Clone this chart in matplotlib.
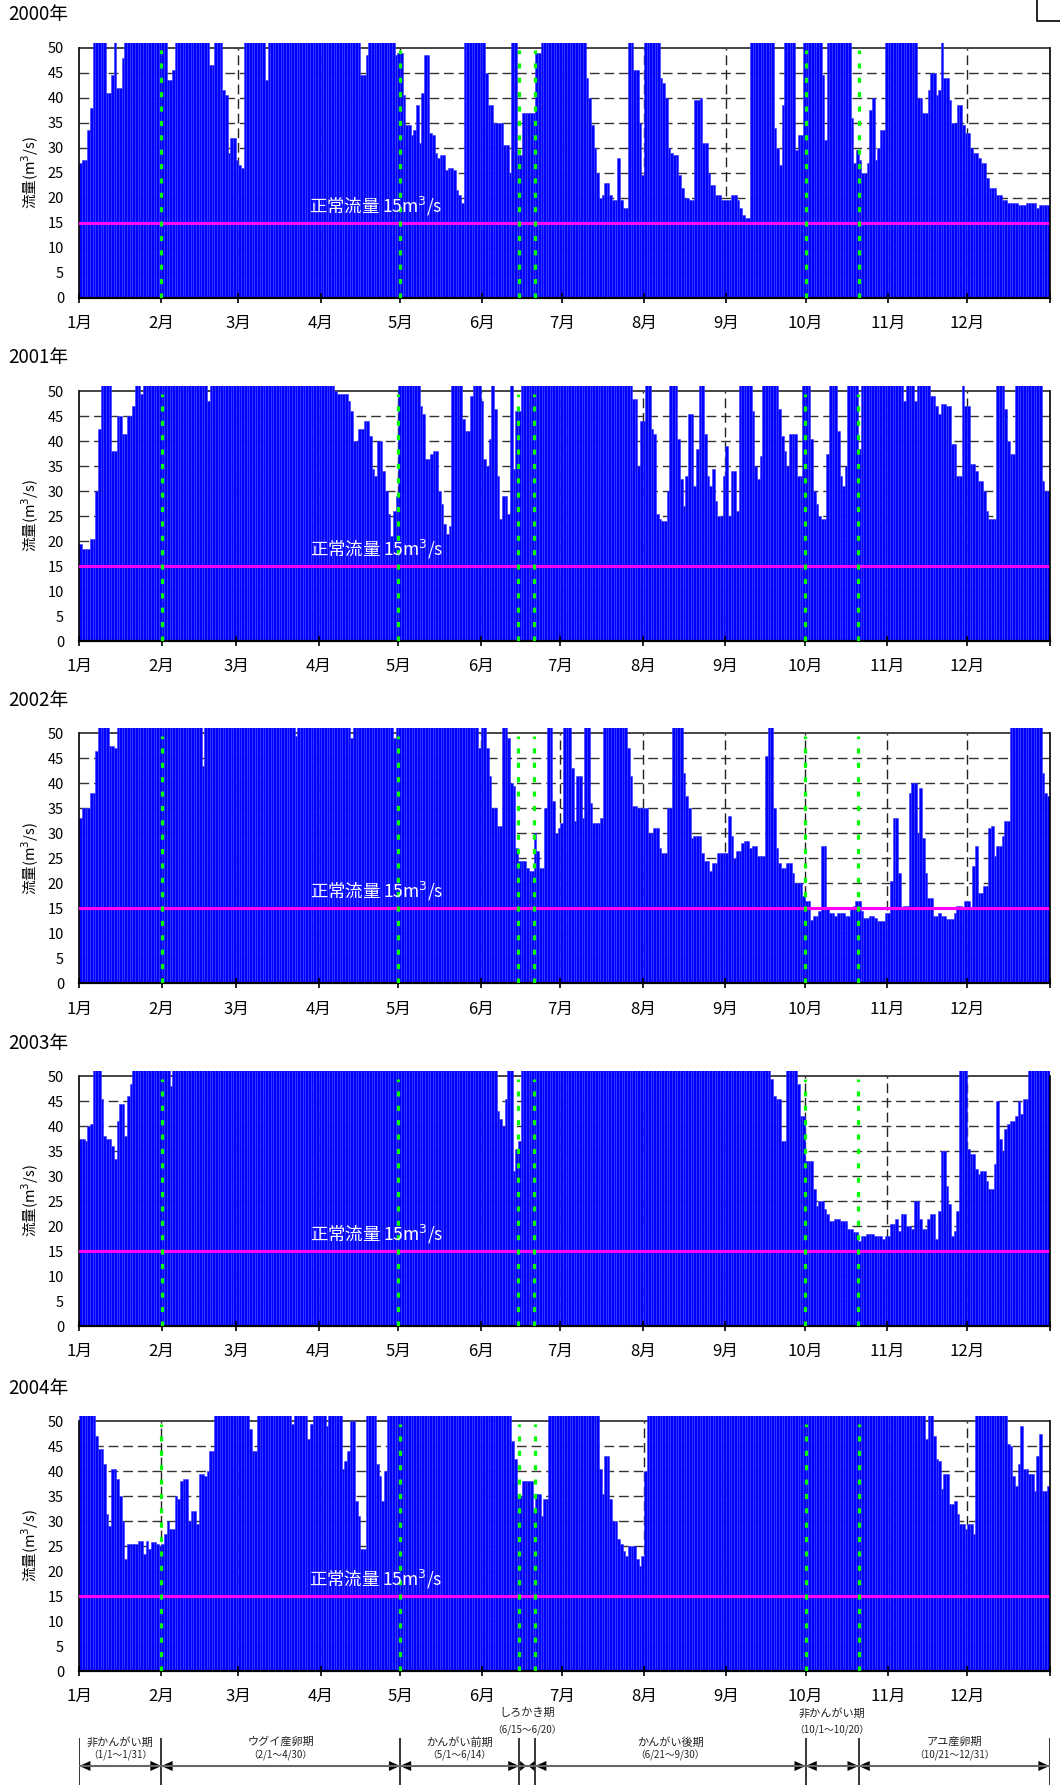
import numpy as np
import matplotlib.pyplot as plt
from matplotlib.lines import Line2D

plt.rcParams['font.family'] = ['Noto Sans CJK JP', 'DejaVu Sans']

# daily flow (m3/s), one list per month; H = off the scale (>50), clipped at the top
H = 60

flow_2000 = [
    [27, 27.5, 27.5, 33.5, 38, H, H, H, H, H, 41, 41, 44.5, H, 42, 42, 48, H, H, H, H, H, H, H, H, H, H, H, H, H, H],
    [H, H, 43.5, 43.5, 45.5, H, H, H, H, H, H, H, H, H, H, H, H, H, 46.5, 46.5, H, H, H, 41.5, 40.5, 29, 32, 32, 27.5],
    [26.5, 26, H, H, H, H, H, H, H, H, 43.5, H, H, H, H, H, H, H, H, H, H, H, H, H, H, H, H, H, H, H, H],
    [H, H, H, H, H, H, H, H, H, H, H, H, H, H, H, 44.5, 44.5, 48.5, H, H, H, H, H, H, H, H, H, H, 48.5, 49],
    [49, 40.5, 34.5, 34.5, 32.5, 33.5, 38.5, 31, 41, 48.5, 48.5, 33, 32.5, 29, 28, 28.5, 28.5, 25.5, 26, 26, 25.5, 21.5, 20.5, 19, H, H, H, H, H, H, H],
    [H, 45, 38.5, 38.5, 35, 35, 35, 35, 30.5, 30.5, 25, H, H, 28.5, 28.5, 37, 37, 37, 37, 37, 49, 49, H, H, H, H, H, H, H, H],
    [H, H, H, H, H, H, H, H, H, 44, 40, 34.5, 30, 25, 20, 20.5, 23, 23, 20.5, 19.5, 19.5, 28, 19.5, 18, 18, H, H, 45.5, 45.5, 35, 24.5],
    [H, H, H, H, H, H, 44, 43, 40, 30, 29, 28.5, 28.5, 24.5, 22, 20, 20, 19.5, 19.5, 39.5, 39.5, 40, 31, 31, 25, 22.5, 22.5, 20.5, 20.5, 19.5, 19.5],
    [19.5, 19.5, 20.5, 20.5, 19.5, 18, 16.5, 16, 16, H, H, H, H, H, H, H, H, H, 34, 30, 26.5, 38.5, H, H, H, H, 29.5, 32.5, 32.5, H],
    [H, H, H, H, H, H, 44.5, 31.5, H, H, H, H, H, H, H, H, H, 36, 27, 29.5, 27.5, 25, 25, 27, 37.5, 40, 27.5, 30, 33.5, 33.5, H],
    [H, H, H, H, H, H, H, H, H, H, H, 40, 40, 37, 37, 41.5, 45, 45, 40.5, 41.5, H, 44, 44, 39.5, 35, 35, 38.5, 38.5, 34.5, 33],
    [33, 30, 29, 29, 28, 27, 27, 24, 22, 22, 22, 20.5, 20.5, 19.5, 19.5, 19, 19, 19, 19, 18.5, 18.5, 18.5, 19, 19, 19, 19, 18, 18.5, 18.5, 18.5, 18.5],
]

flow_2001 = [
    [19.5, 18.5, 18.5, 18.5, 20.5, 20.5, 30, 42.5, H, H, H, H, 38, 38, 45, 45, 41.5, 41.5, 45, 45, 47, H, H, 49.5, H, H, H, H, H, H, H],
    [H, H, H, H, H, H, H, H, H, H, H, H, H, H, H, H, H, 48, H, H, H, H, H, H, H, H, H, H],
    [H, H, H, H, H, H, H, H, H, H, H, H, H, H, H, H, H, H, H, H, H, H, H, H, H, H, H, H, H, H, H],
    [H, H, H, H, H, H, 50, 49.5, 49.5, 49.5, 49.5, 48, 46, 40, 40, 42.5, 42.5, 44, 44, 41, 34.5, 33, 40, 40, 34, 30, 25.5, 21, 26, 29],
    [H, H, H, H, H, H, H, H, 47, 45.5, 36.5, 36.5, 37.5, 38, 38, 30, 27.5, 23.5, 21.5, 23, H, H, H, H, 44.5, 42, 42, 49, H, H, H],
    [48, 36.5, 35, 40.5, H, 46.5, 33, 24.5, 29, 29, 25.5, H, 34.5, 46, 46, H, H, H, H, H, H, H, H, H, H, H, H, H, H, H],
    [H, H, H, H, H, H, H, H, H, H, H, H, H, H, H, H, H, H, H, H, H, H, H, H, H, H, H, 48.5, 48.5, 35, 44],
    [44, H, H, 42.5, 41.5, 25.5, 24.5, 24, 24, 30, H, H, H, 40.5, 32.5, 27, 33, 45.5, 45.5, 31, 38.5, H, H, 41.5, 33, 31, 34.5, 28, 25, 25, 33],
    [39, 25, 34, 34, 26, H, H, H, H, H, 46, 35, 32.5, 37, H, H, H, H, H, H, 46.5, 41, 38, 35, 41.5, 41.5, 41.5, 33, 33, H],
    [H, H, 40.5, 30, 27.5, 25, 24.5, 24.5, 37.5, H, H, H, 42, 33, 31, 35, H, H, H, H, 38.5, H, H, H, H, H, H, H, H, H, H],
    [H, H, H, H, H, H, 48, H, H, H, 48, H, H, H, H, H, 49, 49, 47, 45.5, 47.5, 47.5, 47, 47, 39.5, 39.5, 33, 33, H, 47],
    [47, 35.5, 35.5, 34, 32, 32, 30, 26, 24.5, 24.5, 24.5, H, H, H, 46.5, 40, 37.5, 37.5, H, H, H, H, H, H, H, H, H, H, 32, 30, 30],
]

flow_2002 = [
    [33, 35, 35, 35, 38, 38, 46.5, H, H, H, H, 47.5, 47.5, 47, H, H, H, H, H, H, H, H, H, H, H, H, H, H, H, H, H],
    [H, H, H, H, H, H, H, H, H, H, H, H, H, H, H, 43.5, H, H, H, H, H, H, H, H, H, H, H, H],
    [H, H, H, H, H, H, H, H, H, H, H, H, H, H, H, H, H, H, H, H, H, H, 49.5, H, H, H, H, H, H, H, H],
    [H, H, H, H, H, H, H, H, H, H, H, H, 49, H, H, H, H, H, H, H, H, H, H, H, H, H, H, H, 49, H],
    [H, H, H, H, H, H, H, H, H, H, H, H, H, H, H, H, H, H, H, H, H, H, H, H, H, H, H, H, H, H, 47],
    [H, H, 47, 41.5, 35, 35, 31.5, 31.5, H, H, 49, 40, 39.5, 27, 24.5, 24.5, 24.5, 23, 22.5, 22.5, 30, 26.5, 23, 23, 35, H, H, 36.5, 30, 31],
    [32, H, H, H, 43, 32.5, 41.5, 41.5, 33, H, H, 36, 32, 32, 32, 33, H, H, H, H, H, H, H, H, H, 47, 41.5, 35.5, 35.5, 35, 35],
    [35, 35, 30, 30, 31, 31, 27, 26, 26, 35, 35, H, H, H, H, 42, 37.5, 35, 29, 29.5, 29.5, 29.5, 26, 24.5, 24.5, 22.5, 24, 24, 26, 26, 26],
    [26, 33.5, 29.5, 25, 26.5, 26.5, 28, 28.5, 28.5, 27, 27.5, 27.5, 25.5, 25.5, 25.5, 45.5, H, H, 35, 27, 24, 23, 23, 24, 24, 22, 20, 20, 20, 17.5],
    [16.5, 16.5, 12.7, 13.5, 13.5, 14.5, 27.5, 27.5, 15, 14, 14, 13.5, 14, 14, 14, 13.5, 13.5, 15, 15.5, 16.5, 16.5, 14.5, 13, 13, 13.5, 13.5, 13, 12.5, 12.5, 12.5, 14],
    [14, 20.5, 33, 33, 22, 15, 15.5, 15.5, 38, 40, 40, 30, 39, 29, 22, 17, 17, 13.5, 13.5, 14, 13.5, 13.5, 12.8, 12.8, 12.8, 14, 15.5, 15.5, 15, 16.5],
    [16.5, 15, 23.5, 27.5, 18, 18, 19.5, 19.5, 31, 31.5, 25.5, 27.5, 27.5, 29.5, 32.5, 32.5, H, H, H, H, H, H, H, H, H, H, H, H, 42, 38, 37.5],
]

flow_2003 = [
    [37.5, 37.5, 37, 40, 40.5, H, H, H, 45.5, 38, 37.5, 37.5, 36, 33.5, 41, 44.5, 44.5, 38, 46, 48.5, H, H, H, H, H, H, H, H, H, H, H],
    [H, H, H, 48, H, H, H, H, H, H, H, H, H, H, H, H, H, H, H, H, H, H, H, H, H, H, H, H],
    [H, H, H, H, H, H, H, H, H, H, H, H, H, H, H, H, H, H, H, H, H, H, H, H, H, H, H, H, H, H, H],
    [H, H, H, H, H, H, H, H, H, H, H, H, H, H, H, H, H, H, H, H, H, H, H, H, H, H, H, H, H, H],
    [H, H, H, H, H, H, H, H, H, H, H, H, H, H, H, H, H, H, H, H, H, H, H, H, H, H, H, H, H, H, H],
    [H, H, H, H, H, H, 43, 41.5, 40, 45.5, H, H, 31, 35.5, 37, H, H, H, H, H, H, H, H, H, H, H, H, H, H, H],
    [H, H, H, H, H, H, H, H, H, H, H, H, H, H, H, H, H, H, H, H, H, H, H, H, H, H, H, H, H, H, H],
    [H, H, H, H, H, H, H, H, H, H, H, H, H, H, H, H, H, H, H, H, H, H, H, H, H, H, H, H, H, H, H],
    [H, H, H, H, H, H, H, H, H, H, H, H, H, H, H, H, H, 49.5, 46, 45.5, 45.5, 37, 37, H, H, H, H, 48.5, 42, 42],
    [33, 33, 33, 27.5, 24, 25, 25, 23.5, 22.5, 21, 21, 21.5, 21.5, 21, 21, 21, 19.5, 19.5, 18.8, 18.8, 17, 18, 18, 18.5, 18.5, 18.5, 18, 18, 18, 17.5, 18],
    [18, 20.5, 20.5, 21.5, 19, 22.5, 22.5, 20, 20, 19.5, 25, 25, 21.5, 19.5, 19.5, 21.5, 22.5, 22.5, 17.5, 23, 35, 35, 28, 24.5, 18, 19, 23, H, H, H],
    [35.5, 34.5, 34.5, 31.5, 30.5, 31, 31, 29, 27.5, 27.5, 32.5, 45, 37.5, 35, 39.5, 40.5, 41, 41, 42, 45, 42.5, 45.5, 45.5, H, H, H, H, H, H, H, H],
]

flow_2004 = [
    [H, H, H, H, H, H, 47, 44.5, 44.5, 41.5, 31.5, 29, 40.5, 40.5, 38.5, 35, 30, 22.5, 25.5, 25.5, 25.5, 25.5, 26, 26, 23.5, 26, 24.5, 25.8, 25.8, 25.5, 25],
    [25.5, 27.5, 30, 28.5, 28.5, 35, 34.5, 38, 38.5, 38.5, 30, 32, 32, 29.5, 39.5, 39.5, 39, 40, 44, 44, H, H, H, H, H, H, H, H, H],
    [H, H, H, H, 48.5, 44, 44, H, H, H, H, H, H, H, H, H, H, H, H, H, 49.5, H, H, H, H, H, 46.5, 49.5, H, H, H],
    [H, H, 49, H, H, H, H, H, 40.5, 42, 44, 50, 50, 34, 31, 24.5, 24.5, H, H, H, H, 41.5, 39, 34, 40, H, H, H, H, H],
    [H, H, H, H, H, H, H, H, H, H, H, H, H, H, H, H, H, H, H, H, H, H, H, H, H, H, H, H, H, H, H],
    [H, H, H, H, H, H, H, H, H, H, H, 46, 42.5, 35, 35, 38, 38, 38, 38, 32, 35.5, 35.5, 31, 34.5, 34.5, H, H, H, H, H],
    [H, H, H, H, H, H, H, H, H, H, H, H, H, H, 40.5, 35.5, 43, 43, 34.5, 30, 30, 26.5, 25.5, 24, 23, 25, 25, 25, 22.5, 21, 23],
    [40, H, H, H, H, H, H, H, H, H, H, H, H, H, H, H, H, H, H, H, H, H, H, H, H, H, H, H, H, H, H],
    [H, H, H, H, H, H, H, H, H, H, H, H, H, H, H, H, H, H, H, H, H, H, H, H, H, H, H, H, H, H],
    [H, H, H, H, H, H, H, H, H, H, H, H, H, H, H, H, H, H, H, H, H, H, H, H, H, H, H, H, H, H, H],
    [H, H, H, H, H, H, H, H, H, H, H, H, H, H, 46.5, H, H, 47, 42.5, 42, 36.5, 39.5, 39.5, 33.5, 33.5, 34, 31.5, 29.5, 29.5, 28.5],
    [29.5, 29.5, 27.5, H, H, H, H, H, H, H, H, H, H, H, H, 45.5, 45, 39, 37, 41.5, 49, 40.5, 40.5, 39.5, 39.5, 36, 43, 47.5, 36, 36, 37],
]

year_labels = ['2000年', '2001年', '2002年', '2003年', '2004年']
year_flows = [flow_2000, flow_2001, flow_2002, flow_2003, flow_2004]
month_labels = ['1月', '2月', '3月', '4月', '5月', '6月', '7月', '8月', '9月', '10月', '11月', '12月']

normal_flow = 15
normal_label = '正常流量 15m$^3$/s'

# period boundaries (month, day) shown as green dotted lines
boundaries = [(2, 1), (5, 1), (6, 15), (6, 21), (10, 1), (10, 21)]
period_names = ['非かんがい期', 'ウグイ産卵期', 'かんがい前期', 'しろかき期', 'かんがい後期', '非かんがい期', 'アユ産卵期']
period_spans = ['（1/1～1/31）', '（2/1～4/30）', '（5/1～6/14）', '（6/15～6/20）',
                '（6/21～9/30）', '（10/1～10/20）', '（10/21～12/31）']


def month_lengths(leap):
    return [31, 29 if leap else 28, 31, 30, 31, 30, 31, 31, 30, 31, 30, 31]


W, HP = 1060, 1785
fig = plt.figure(figsize=(W / 100, HP / 100), dpi=100)

zero_y = [297.7, 641, 983.3, 1326, 1671]
x0, x1 = 79.3, 1049.5
ax_h = 255

for k in range(5):
    months = year_flows[k]
    leap = len(months[1]) == 29
    ml = month_lengths(leap)
    for m in range(12):
        assert len(months[m]) == ml[m], (year_labels[k], m + 1, len(months[m]))
    q = np.concatenate([np.array(mm, dtype=float) for mm in months])
    nd = len(q)
    starts = np.concatenate([[0], np.cumsum(ml)])

    ax = fig.add_axes([x0 / W, 1 - zero_y[k] / HP, (x1 - x0) / W, ax_h / HP])
    ax.set_xlim(0, nd)
    ax.set_ylim(0, 51)

    for y in range(5, 50, 5):
        ax.axhline(y, color='#333333', lw=1, ls=(0, (7, 3.5)), zorder=0)
    for s in starts[1:-1]:
        ax.plot([s, s], [0, 50], color='#222222', lw=1, ls=(0, (7, 3.5)), zorder=0)
    ax.axhline(50, color='#444444', lw=1.4, zorder=0)

    ax.bar(np.arange(nd), q, width=1.0, align='edge', color='#0000ff',
           edgecolor='#3c3cff', linewidth=0.4, zorder=1)

    ax.axhline(normal_flow, color='#ff00ff', lw=2.2, zorder=3)
    gx = [starts[m - 1] + d - 1 for m, d in boundaries]
    ax.vlines(gx, 0, 49.5, colors='#00ff00', lw=2.3, linestyles=(0, (1.6, 2.9)), zorder=4)
    ax.text(112, 18.3, normal_label, color='white', fontsize=12.5,
            ha='center', va='center', zorder=5)

    ax.spines['top'].set_visible(False)
    ax.spines['left'].set_bounds(0, 50)
    ax.spines['right'].set_bounds(0, 50)
    ax.spines['right'].set_zorder(5)
    ax.spines['bottom'].set_linewidth(1.6)
    for sp in ['left', 'right']:
        ax.spines[sp].set_linewidth(1.2)

    ax.set_xticks(starts)
    ax.set_xticklabels(month_labels + [''])
    ax.tick_params(axis='x', direction='inout', length=7, width=1.2, pad=9, labelsize=12)
    ax.set_yticks(range(0, 51, 5))
    ax.tick_params(axis='y', length=0, pad=11, labelsize=10.5)

    fig.text(8 / W, 1 - (zero_y[k] - 283) / HP, year_labels[k], fontsize=13.5,
             ha='left', va='center')
    fig.text(30 / W, 1 - (zero_y[k] - 125) / HP, '流量(m$^3$/s)', fontsize=10.5,
             rotation=90, ha='center', va='center')

# period annotation under the last panel (2004 calendar)
ml = month_lengths(True)
starts = np.concatenate([[0], np.cumsum(ml)])
edges = [0] + [starts[m - 1] + d - 1 for m, d in boundaries] + [366]
ann = fig.add_axes([x0 / W, 0, (x1 - x0) / W, 105 / HP])
ann.set_xlim(0, 366)
ann.set_ylim(1785, 1680)
ann.axis('off')

ya = 1766
ann.vlines(edges, 1738, 1785, colors='black', lw=1.1)
hl, hh = 4.2, 5
for i in range(len(edges) - 1):
    a, b = edges[i], edges[i + 1]
    ann.plot([a, b], [ya, ya], color='#666666', lw=1.5, solid_capstyle='butt')
    if b - a > 2 * hl + 1:
        ann.fill([a, a + hl, a + hl], [ya, ya - hh, ya + hh], color='black', lw=0)
        ann.fill([b, b - hl, b - hl], [ya, ya - hh, ya + hh], color='black', lw=0)
    else:
        s = (b - a) / 2 - 0.4
        ann.fill([a + s, a + 0.3, a + 0.3], [ya, ya - hh, ya + hh], color='black', lw=0)
        ann.fill([b - s, b - 0.3, b - 0.3], [ya, ya - hh, ya + hh], color='black', lw=0)
    xc = (a + b) / 2
    if b - a < 30:
        y1, y2 = 1713, 1730
    else:
        y1, y2 = 1742, 1755
    ann.text(xc, y1, period_names[i], fontsize=8, ha='center', va='center', color='#222222')
    ann.text(xc, y2, period_spans[i], fontsize=7, ha='center', va='center', color='#222222')

fig.add_artist(Line2D([1037 / W, 1037 / W, 1.0], [1.0, 1 - 21 / HP, 1 - 21 / HP],
                      transform=fig.transFigure, color='black', lw=1.2))

fig.savefig('out.png', dpi=100)
